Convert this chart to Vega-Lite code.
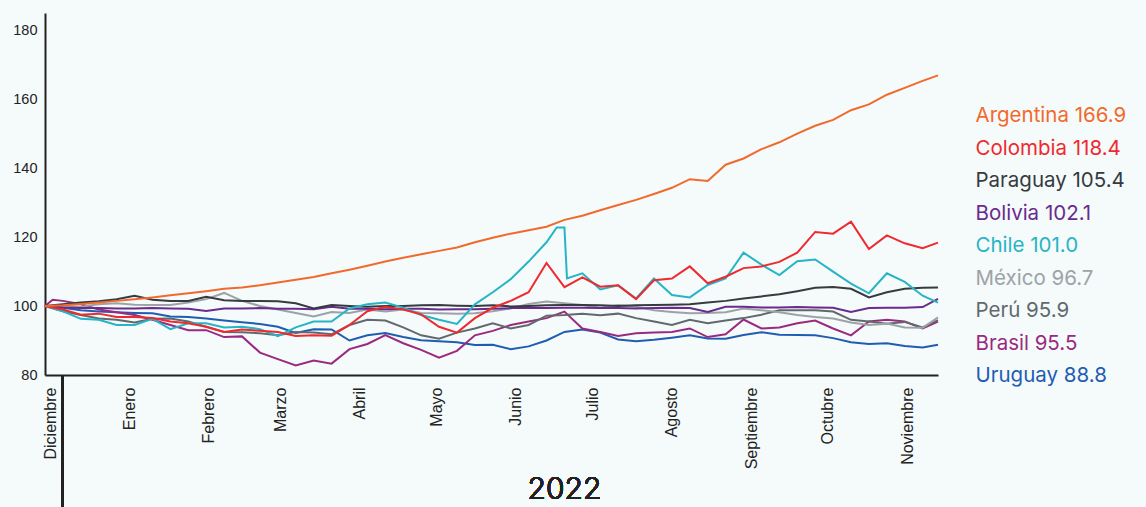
{
  "$schema": "https://vega.github.io/schema/vega-lite/v6.json",
  "width": 893,
  "height": 362,
  "autosize": {"type": "none"},
  "padding": {"left": 45, "top": 13, "right": 208, "bottom": 132},
  "background": "#F5FAFB",
  "config": {"view": {"stroke": null}, "font": "Liberation Sans"},
  "data": {
    "values": [
      {"d": "2021-11-29", "Argentina": 100, "Colombia": 100, "Paraguay": 100, "Bolivia": 100, "Chile": 100, "México": 100, "Perú": 100, "Brasil": 100, "Uruguay": 100},
      {"d": "2021-12-02", "Brasil": 101.8, "Bolivia": 99.8},
      {"d": "2021-12-06", "Argentina": 100.2, "Colombia": 99.0, "Paraguay": 100.5, "Bolivia": 99.6, "Chile": 98.5, "México": 100.0, "Perú": 98.5, "Brasil": 101.5, "Uruguay": 99.5},
      {"d": "2021-12-13", "Argentina": 100.6, "Colombia": 97.5, "Paraguay": 101.0, "Bolivia": 99.4, "Chile": 96.3, "México": 99.8, "Perú": 97.4, "Brasil": 100.5, "Uruguay": 98.8},
      {"d": "2021-12-20", "Argentina": 101.0, "Colombia": 97.8, "Paraguay": 101.4, "Bolivia": 99.4, "Chile": 96.0, "México": 100.5, "Perú": 96.4, "Brasil": 99.0, "Uruguay": 98.4},
      {"d": "2021-12-27", "Argentina": 101.5, "Colombia": 96.8, "Paraguay": 102.0, "Bolivia": 99.3, "Chile": 94.5, "México": 100.8, "Perú": 96.0, "Brasil": 98.2, "Uruguay": 98.2},
      {"d": "2022-01-03", "Argentina": 102.0, "Colombia": 96.8, "Paraguay": 103.0, "Bolivia": 99.3, "Chile": 94.5, "México": 100.4, "Perú": 95.2, "Brasil": 97.4, "Uruguay": 98.0},
      {"d": "2022-01-10", "Argentina": 102.5, "Colombia": 96.5, "Paraguay": 101.8, "Bolivia": 99.4, "Chile": 96.3, "México": 100.3, "Perú": 96.3, "Brasil": 96.0, "Uruguay": 97.9},
      {"d": "2022-01-17", "Argentina": 103.1, "Colombia": 95.5, "Paraguay": 101.5, "Bolivia": 99.3, "Chile": 93.3, "México": 100.3, "Perú": 96.4, "Brasil": 94.5, "Uruguay": 97.0},
      {"d": "2022-01-24", "Argentina": 103.7, "Colombia": 95.0, "Paraguay": 101.5, "Bolivia": 99.2, "Chile": 95.0, "México": 101.0, "Perú": 95.5, "Brasil": 93.0, "Uruguay": 96.8},
      {"d": "2022-01-31", "Argentina": 104.3, "Colombia": 94.0, "Paraguay": 102.7, "Bolivia": 98.6, "Chile": 95.0, "México": 102.0, "Perú": 94.0, "Brasil": 93.0, "Uruguay": 96.4},
      {"d": "2022-02-07", "Argentina": 105.0, "Colombia": 92.5, "Paraguay": 101.7, "Bolivia": 99.3, "Chile": 93.8, "México": 103.8, "Perú": 92.5, "Brasil": 91.0, "Uruguay": 95.8},
      {"d": "2022-02-14", "Argentina": 105.4, "Colombia": 93.2, "Paraguay": 101.5, "Bolivia": 99.3, "Chile": 94.0, "México": 101.5, "Perú": 92.4, "Brasil": 91.2, "Uruguay": 95.3},
      {"d": "2022-02-21", "Argentina": 106.0, "Colombia": 92.8, "Paraguay": 101.5, "Bolivia": 99.4, "Chile": 93.3, "México": 100.0, "Perú": 92.1, "Brasil": 86.5, "Uruguay": 94.8},
      {"d": "2022-02-28", "Argentina": 106.8, "Colombia": 92.5, "Paraguay": 101.4, "Bolivia": 99.2, "Chile": 91.3, "México": 99.0, "Perú": 91.5, "Brasil": 84.6, "Uruguay": 94.0},
      {"d": "2022-03-07", "Argentina": 107.6, "Colombia": 91.3, "Paraguay": 100.8, "Bolivia": 99.2, "Chile": 93.8, "México": 98.0, "Perú": 92.5, "Brasil": 82.8, "Uruguay": 92.2},
      {"d": "2022-03-14", "Argentina": 108.4, "Colombia": 91.5, "Paraguay": 99.3, "Bolivia": 99.1, "Chile": 95.5, "México": 97.0, "Perú": 92.3, "Brasil": 84.2, "Uruguay": 93.3},
      {"d": "2022-03-21", "Argentina": 109.5, "Colombia": 91.4, "Paraguay": 100.3, "Bolivia": 99.8, "Chile": 95.5, "México": 98.3, "Perú": 91.8, "Brasil": 83.3, "Uruguay": 93.2},
      {"d": "2022-03-28", "Argentina": 110.5, "Colombia": 94.5, "Paraguay": 100.0, "Bolivia": 99.2, "Chile": 99.3, "México": 98.0, "Perú": 94.5, "Brasil": 87.5, "Uruguay": 90.0},
      {"d": "2022-04-04", "Argentina": 111.7, "Colombia": 98.5, "Paraguay": 99.8, "Bolivia": 99.2, "Chile": 100.5, "México": 99.0, "Perú": 96.0, "Brasil": 89.0, "Uruguay": 91.5},
      {"d": "2022-04-11", "Argentina": 112.9, "Colombia": 99.8, "Paraguay": 100.0, "Bolivia": 99.1, "Chile": 101.0, "México": 98.4, "Perú": 95.8, "Brasil": 91.6, "Uruguay": 92.2},
      {"d": "2022-04-18", "Argentina": 114.0, "Colombia": 99.0, "Paraguay": 100.0, "Bolivia": 99.2, "Chile": 99.5, "México": 99.0, "Perú": 93.8, "Brasil": 89.2, "Uruguay": 91.0},
      {"d": "2022-04-25", "Argentina": 115.0, "Colombia": 97.6, "Paraguay": 100.2, "Bolivia": 99.2, "Chile": 97.4, "México": 98.0, "Perú": 91.5, "Brasil": 87.3, "Uruguay": 90.1},
      {"d": "2022-05-02", "Argentina": 116.0, "Colombia": 94.0, "Paraguay": 100.3, "Bolivia": 99.0, "Chile": 96.0, "México": 97.9, "Perú": 90.5, "Brasil": 85.0, "Uruguay": 89.8},
      {"d": "2022-05-09", "Argentina": 117.0, "Colombia": 92.3, "Paraguay": 100.1, "Bolivia": 99.1, "Chile": 94.8, "México": 97.8, "Perú": 92.3, "Brasil": 87.0, "Uruguay": 89.5},
      {"d": "2022-05-16", "Argentina": 118.5, "Colombia": 96.5, "Paraguay": 100.0, "Bolivia": 99.1, "Chile": 100.5, "México": 97.9, "Perú": 93.5, "Brasil": 91.5, "Uruguay": 88.7},
      {"d": "2022-05-23", "Argentina": 119.8, "Colombia": 99.5, "Paraguay": 100.2, "Bolivia": 99.2, "Chile": 104.0, "México": 98.5, "Perú": 95.0, "Brasil": 92.8, "Uruguay": 88.8},
      {"d": "2022-05-30", "Argentina": 121.0, "Colombia": 101.5, "Paraguay": 99.9, "Bolivia": 99.4, "Chile": 107.8, "México": 99.3, "Perú": 93.5, "Brasil": 94.5, "Uruguay": 87.5},
      {"d": "2022-06-06", "Argentina": 122.0, "Colombia": 104.0, "Paraguay": 100.0, "Bolivia": 99.5, "Chile": 112.9, "México": 100.6, "Perú": 94.5, "Brasil": 95.5, "Uruguay": 88.3},
      {"d": "2022-06-13", "Argentina": 123.0, "Colombia": 112.5, "Paraguay": 100.2, "Bolivia": 99.4, "Chile": 118.5, "México": 101.3, "Perú": 97.2, "Brasil": 96.5, "Uruguay": 90.0},
      {"d": "2022-06-17", "Chile": 122.8},
      {"d": "2022-06-20", "Argentina": 125.0, "Colombia": 105.5, "Paraguay": 100.3, "Bolivia": 99.5, "Chile": 122.8, "México": 100.8, "Perú": 97.4, "Brasil": 98.4, "Uruguay": 92.5},
      {"d": "2022-06-21", "Chile": 108.0},
      {"d": "2022-06-27", "Argentina": 126.2, "Colombia": 108.3, "Paraguay": 100.3, "Bolivia": 99.5, "Chile": 109.5, "México": 100.3, "Perú": 97.8, "Brasil": 93.5, "Uruguay": 93.2},
      {"d": "2022-07-04", "Argentina": 127.8, "Colombia": 105.6, "Paraguay": 100.2, "Bolivia": 99.4, "Chile": 104.8, "México": 99.5, "Perú": 97.3, "Brasil": 92.5, "Uruguay": 92.3},
      {"d": "2022-07-11", "Argentina": 129.3, "Colombia": 106.0, "Paraguay": 100.0, "Bolivia": 99.4, "Chile": 106.0, "México": 100.3, "Perú": 97.8, "Brasil": 91.3, "Uruguay": 90.3},
      {"d": "2022-07-18", "Argentina": 130.8, "Colombia": 102.0, "Paraguay": 100.2, "Bolivia": 99.3, "Chile": 102.2, "México": 99.8, "Perú": 96.5, "Brasil": 92.1, "Uruguay": 89.8},
      {"d": "2022-07-25", "Argentina": 132.5, "Colombia": 107.5, "Paraguay": 100.3, "Bolivia": 99.4, "Chile": 108.0, "México": 98.8, "Perú": 95.5, "Brasil": 92.3, "Uruguay": 90.2},
      {"d": "2022-08-01", "Argentina": 134.3, "Colombia": 108.0, "Paraguay": 100.4, "Bolivia": 99.5, "Chile": 103.2, "México": 98.3, "Perú": 94.5, "Brasil": 92.5, "Uruguay": 90.8},
      {"d": "2022-08-08", "Argentina": 136.8, "Colombia": 111.5, "Paraguay": 100.5, "Bolivia": 99.4, "Chile": 102.5, "México": 97.9, "Perú": 96.0, "Brasil": 93.5, "Uruguay": 91.5},
      {"d": "2022-08-15", "Argentina": 136.3, "Colombia": 106.6, "Paraguay": 101.0, "Bolivia": 98.3, "Chile": 106.1, "México": 98.0, "Perú": 95.0, "Brasil": 91.0, "Uruguay": 90.6},
      {"d": "2022-08-22", "Argentina": 141.0, "Colombia": 108.5, "Paraguay": 101.5, "Bolivia": 99.8, "Chile": 108.0, "México": 98.2, "Perú": 95.8, "Brasil": 91.8, "Uruguay": 90.5},
      {"d": "2022-08-29", "Argentina": 142.8, "Colombia": 111.0, "Paraguay": 102.2, "Bolivia": 99.8, "Chile": 115.5, "México": 99.3, "Perú": 96.5, "Brasil": 96.1, "Uruguay": 91.6},
      {"d": "2022-09-05", "Argentina": 145.5, "Colombia": 111.5, "Paraguay": 102.8, "Bolivia": 99.6, "Chile": 112.0, "México": 98.8, "Perú": 97.5, "Brasil": 93.5, "Uruguay": 92.4},
      {"d": "2022-09-12", "Argentina": 147.5, "Colombia": 112.8, "Paraguay": 103.4, "Bolivia": 99.6, "Chile": 109.0, "México": 98.2, "Perú": 98.8, "Brasil": 93.8, "Uruguay": 91.7},
      {"d": "2022-09-19", "Argentina": 150.0, "Colombia": 115.5, "Paraguay": 104.3, "Bolivia": 99.7, "Chile": 113.0, "México": 97.4, "Perú": 98.8, "Brasil": 95.0, "Uruguay": 91.6},
      {"d": "2022-09-26", "Argentina": 152.3, "Colombia": 121.5, "Paraguay": 105.3, "Bolivia": 99.6, "Chile": 113.5, "México": 96.8, "Perú": 98.8, "Brasil": 95.8, "Uruguay": 91.5},
      {"d": "2022-10-03", "Argentina": 154.0, "Colombia": 121.0, "Paraguay": 105.5, "Bolivia": 99.5, "Chile": 110.0, "México": 96.4, "Perú": 98.4, "Brasil": 93.5, "Uruguay": 90.7},
      {"d": "2022-10-10", "Argentina": 156.8, "Colombia": 124.5, "Paraguay": 105.0, "Bolivia": 98.3, "Chile": 106.5, "México": 95.2, "Perú": 96.0, "Brasil": 91.5, "Uruguay": 89.5},
      {"d": "2022-10-17", "Argentina": 158.5, "Colombia": 116.5, "Paraguay": 102.5, "Bolivia": 99.4, "Chile": 103.7, "México": 94.5, "Perú": 95.5, "Brasil": 95.5, "Uruguay": 89.0},
      {"d": "2022-10-24", "Argentina": 161.3, "Colombia": 120.5, "Paraguay": 104.0, "Bolivia": 99.5, "Chile": 109.5, "México": 94.9, "Perú": 94.9, "Brasil": 96.0, "Uruguay": 89.2},
      {"d": "2022-10-31", "Argentina": 163.3, "Colombia": 118.2, "Paraguay": 105.0, "Bolivia": 99.5, "Chile": 107.0, "México": 93.8, "Perú": 95.4, "Brasil": 95.5, "Uruguay": 88.4},
      {"d": "2022-11-07", "Argentina": 165.3, "Colombia": 116.8, "Paraguay": 105.3, "Bolivia": 99.7, "Chile": 103.0, "México": 93.7, "Perú": 93.8, "Brasil": 93.5, "Uruguay": 88.0},
      {"d": "2022-11-13", "Argentina": 166.9, "Colombia": 118.4, "Paraguay": 105.4, "Bolivia": 102.1, "Chile": 101.0, "México": 96.7, "Perú": 95.9, "Brasil": 95.5, "Uruguay": 88.8}
    ]
  },
  "layer": [
    {
      "transform": [
        {"fold": ["Uruguay", "Brasil", "Perú", "México", "Bolivia", "Paraguay", "Chile", "Colombia", "Argentina"], "as": ["pais", "v"]},
        {"filter": "isValid(datum.v)"}
      ],
      "mark": {"type": "line", "strokeWidth": 2},
      "encoding": {
        "x": {
          "field": "d", "type": "temporal", "title": null,
          "scale": {"type": "utc", "domain": [{"year": 2021, "month": 11, "date": 29, "utc": true}, {"year": 2022, "month": 11, "date": 13, "utc": true}]},
          "axis": {
            "values": [
              {"year": 2021, "month": 12, "date": 1, "utc": true},
              {"year": 2022, "month": 1, "date": 1, "utc": true},
              {"year": 2022, "month": 2, "date": 1, "utc": true},
              {"year": 2022, "month": 3, "date": 1, "utc": true},
              {"year": 2022, "month": 4, "date": 1, "utc": true},
              {"year": 2022, "month": 5, "date": 1, "utc": true},
              {"year": 2022, "month": 6, "date": 1, "utc": true},
              {"year": 2022, "month": 7, "date": 1, "utc": true},
              {"year": 2022, "month": 8, "date": 1, "utc": true},
              {"year": 2022, "month": 9, "date": 1, "utc": true},
              {"year": 2022, "month": 10, "date": 1, "utc": true},
              {"year": 2022, "month": 11, "date": 1, "utc": true}
            ],
            "labelExpr": "['Enero','Febrero','Marzo','Abril','Mayo','Junio','Julio','Agosto','Septiembre','Octubre','Noviembre','Diciembre'][utcmonth(datum.value)]",
            "labelAngle": -90, "labelAlign": "right", "labelBaseline": "middle",
            "ticks": false, "grid": false, "labelPadding": 12, "labelFontSize": 16,
            "labelColor": "#222222", "domainColor": "#222222", "domainWidth": 2,
            "labelFlush": false, "labelOverlap": false, "labelBound": false
          }
        },
        "y": {
          "field": "v", "type": "quantitative", "title": null,
          "scale": {"domain": [80, 185], "nice": false, "zero": false},
          "axis": {
            "values": [80, 100, 120, 140, 160, 180], "ticks": false, "grid": false,
            "labelPadding": 8, "labelFontSize": 14.5, "labelColor": "#222222",
            "domainColor": "#222222", "domainWidth": 2
          }
        },
        "color": {
          "field": "pais", "type": "nominal",
          "scale": {
            "domain": ["Argentina", "Colombia", "Paraguay", "Bolivia", "Chile", "México", "Perú", "Brasil", "Uruguay"],
            "range": ["#F26A2B", "#EE2A2F", "#353B3F", "#6A2A8E", "#27B4C4", "#9CA3A7", "#61696D", "#9A2A7F", "#1F5DB1"]
          },
          "legend": {
            "orient": "none", "legendX": 910, "legendY": 93, "title": null,
            "symbolSize": 0, "symbolStrokeWidth": 0, "symbolOpacity": 0, "labelOffset": 0,
            "labelFont": "Inter", "labelFontSize": 20.5, "rowPadding": 11.5, "labelLimit": 400,
            "labelExpr": "datum.label + ' ' + ['166.9','118.4','105.4','102.1','101.0','96.7','95.9','95.5','88.8'][indexof(['Argentina','Colombia','Paraguay','Bolivia','Chile','México','Perú','Brasil','Uruguay'], datum.label)]",
            "encode": {"labels": {"update": {"fill": {"scale": "color", "field": "value"}}}}
          }
        }
      }
    },
    {
      "mark": {"type": "rule", "strokeWidth": 2, "color": "#222222", "clip": false},
      "encoding": {
        "x": {"datum": {"year": 2021, "month": 12, "date": 6, "utc": true}, "type": "temporal", "title": null},
        "y": {"datum": 80, "type": "quantitative", "title": null},
        "y2": {"datum": 40}
      }
    },
    {
      "mark": {"type": "text", "fontSize": 30, "font": "Inter", "fontWeight": 300, "color": "#222222", "baseline": "middle", "align": "center", "clip": false},
      "encoding": {
        "x": {"datum": {"year": 2022, "month": 6, "date": 20, "utc": true}, "type": "temporal", "title": null},
        "y": {"datum": 46.6, "type": "quantitative", "title": null},
        "text": {"value": "2022"}
      }
    }
  ]
}
